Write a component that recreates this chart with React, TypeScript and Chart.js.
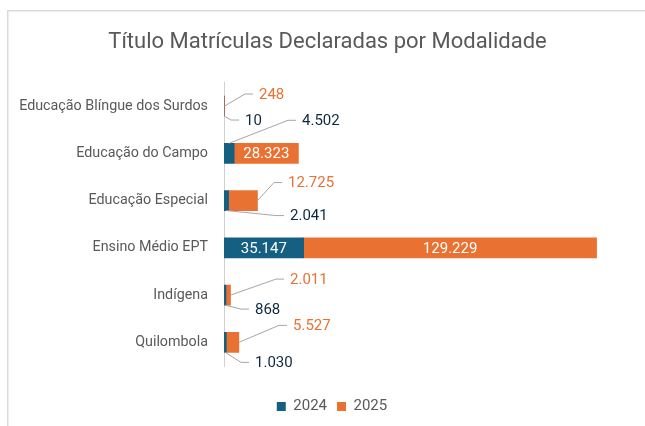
import React, { useEffect, useRef } from 'react';
import { Chart, registerables } from 'chart.js';

Chart.register(...registerables);

const categories = [
  'Educação Blíngue dos Surdos',
  'Educação do Campo',
  'Educação Especial',
  'Ensino Médio EPT',
  'Indígena',
  'Quilombola',
];
const seriesNames = ['2024', '2025'];
const values2024 = [10, 4502, 2041, 35147, 868, 1030];
const values2025 = [248, 28323, 12725, 129229, 2011, 5527];
const xMax = 180000;

const TITLE = 'Título Matrículas Declaradas por Modalidade';
const FONT = 'Roboto, "Liberation Sans", sans-serif';
const C2024 = '#156082';
const C2025 = '#E97132';
const DARK = '#0E2841';
const GREY = '#595959';
const LEADER = '#A6A6A6';

// label placement (style): 'in' = centred inside segment; otherwise offset of text from zero line / category centre
type Place = { mode: 'in' } | { mode: 'out'; anchor: 'end' | 'top' | 'bottom'; dx: number; dy: number };
const place2024: Place[] = [
  { mode: 'out', anchor: 'bottom', dx: 21, dy: 14 },
  { mode: 'out', anchor: 'top', dx: 78, dy: -33 },
  { mode: 'out', anchor: 'bottom', dx: 66, dy: 15 },
  { mode: 'in' },
  { mode: 'out', anchor: 'bottom', dx: 31, dy: 14 },
  { mode: 'out', anchor: 'bottom', dx: 31, dy: 20 },
];
const place2025: Place[] = [
  { mode: 'out', anchor: 'end', dx: 35, dy: -12 },
  { mode: 'in' },
  { mode: 'out', anchor: 'end', dx: 64, dy: -18 },
  { mode: 'in' },
  { mode: 'out', anchor: 'end', dx: 66, dy: -16 },
  { mode: 'out', anchor: 'end', dx: 69, dy: -17 },
];

function fmt(n: number): string {
  return String(n).replace(/\B(?=(\d{3})+(?!\d))/g, '.');
}

const framePlugin = {
  id: 'frame',
  afterLayout(chart: any) {
    const t = chart.titleBlock;
    if (t) {
      t.left += 11.5;
      t.right += 11.5;
    }
    const l = chart.legend;
    if (l) {
      l.left += 16;
      l.right += 16;
    }
  },
  beforeDraw(chart: any) {
    const ctx = chart.ctx;
    ctx.save();
    ctx.fillStyle = '#ffffff';
    ctx.fillRect(0, 0, chart.width, chart.height);
    ctx.fillStyle = '#DADADA';
    ctx.fillRect(7, 10, chart.width - 7, 1.5);
    ctx.fillRect(7, 10, 1.5, chart.height - 10);
    ctx.restore();
  },
};

const labelPlugin = {
  id: 'barLabels',
  afterDatasetsDraw(chart: any) {
    const ctx = chart.ctx;
    const zeroX = chart.scales.x.getPixelForValue(0);
    ctx.save();
    ctx.font = `15px ${FONT}`;
    ctx.textBaseline = 'middle';
    chart.data.datasets.forEach((ds: any, di: number) => {
      const meta = chart.getDatasetMeta(di);
      const places = di === 0 ? place2024 : place2025;
      meta.data.forEach((bar: any, i: number) => {
        const p = places[i];
        const { x, y, base, height } = bar.getProps(['x', 'y', 'base', 'height'], true);
        const text = fmt(ds.data[i]);
        if (p.mode === 'in') {
          ctx.fillStyle = '#ffffff';
          ctx.textAlign = 'center';
          ctx.fillText(text, (x + base) / 2, y + 1);
          return;
        }
        let sx: number, sy: number;
        if (p.anchor === 'end') {
          sx = x;
          sy = y;
        } else if (p.anchor === 'top') {
          sx = (x + base) / 2;
          sy = y - height / 2;
        } else {
          sx = (x + base) / 2;
          sy = y + height / 2;
        }
        const tx = zeroX + p.dx;
        const ty = y + p.dy;
        ctx.strokeStyle = LEADER;
        ctx.lineWidth = 1;
        ctx.beginPath();
        ctx.moveTo(sx, sy);
        ctx.lineTo(tx - 14, ty);
        ctx.lineTo(tx - 6, ty);
        ctx.stroke();
        ctx.fillStyle = di === 0 ? DARK : C2025;
        ctx.textAlign = 'left';
        ctx.fillText(text, tx, ty + 1);
      });
    });
    ctx.restore();
  },
};

export default function App() {
  const ref = useRef<HTMLCanvasElement | null>(null);
  useEffect(() => {
    if (!ref.current) return;
    const chart = new Chart(ref.current, {
      type: 'bar',
      data: {
        labels: categories,
        datasets: [
          { label: seriesNames[0], data: values2024, backgroundColor: C2024, barThickness: 20 },
          { label: seriesNames[1], data: values2025, backgroundColor: C2025, barThickness: 20 },
        ],
      },
      options: {
        indexAxis: 'y',
        animation: false,
        responsive: false,
        layout: { padding: { left: 0, right: 13, top: 0, bottom: 2 } },
        scales: {
          x: {
            stacked: true,
            min: 0,
            max: xMax,
            display: true,
            grid: { display: false, drawTicks: false },
            border: { display: false },
            ticks: { display: false },
            afterFit: (s: any) => {
              s.height = 23;
            },
          },
          y: {
            stacked: true,
            grid: { display: false, drawTicks: false },
            border: { display: true, color: '#D0D0D0', width: 1 },
            ticks: { color: GREY, font: { size: 14.3, family: FONT }, padding: 16 },
            afterFit: (s: any) => {
              s.width = 224;
            },
          },
        },
        plugins: {
          title: {
            display: true,
            text: TITLE,
            color: GREY,
            font: { size: 22, weight: 'normal', family: FONT },
            padding: { top: 29, bottom: 27 },
          },
          legend: {
            position: 'bottom',
            labels: {
              boxWidth: 9,
              boxHeight: 9,
              color: GREY,
              font: { size: 15, family: FONT },
              padding: 10,
            },
          },
          tooltip: { enabled: false },
        },
      },
      plugins: [framePlugin, labelPlugin],
    });
    return () => chart.destroy();
  }, []);
  return (
    <div style={{ position: 'fixed', left: 0, top: 0, width: 645, height: 426 }}>
      <canvas ref={ref} width={645} height={426} />
    </div>
  );
}
